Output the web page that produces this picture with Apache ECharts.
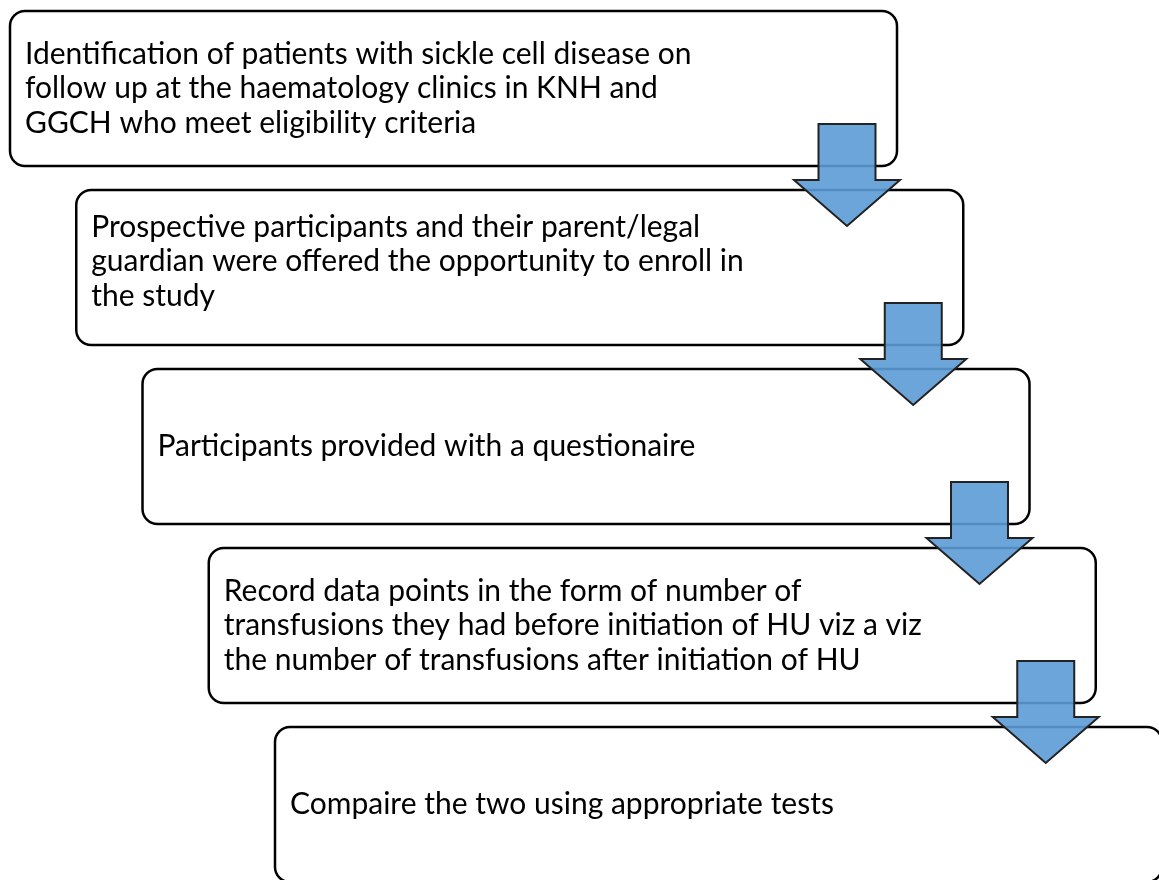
<!DOCTYPE html>
<html>
<head>
<meta charset="utf-8">
<script src="https://cdn.jsdelivr.net/npm/echarts@6/dist/echarts.min.js"></script>
<style>
html,body{margin:0;padding:0;background:#fff;}
#chart{width:1159px;height:880px;}
</style>
</head>
<body>
<div id="chart"></div>
<script>
// ---- data ----
const steps = [
  "Identification of patients with sickle cell disease on\nfollow up at the haematology clinics in KNH and\nGGCH who meet eligibility criteria",
  "Prospective participants and their parent/legal\nguardian were offered the opportunity to enroll in\nthe study",
  "Participants provided with a questionaire",
  "Record data points in the form of number of\ntransfusions they had before initiation of HU viz a viz\nthe number of transfusions after initiation of HU",
  "Compaire the two using appropriate tests"
];
const links = [[0, 1], [1, 2], [2, 3], [3, 4]];

// ---- layout (pixel-space units of the hidden axes) ----
const BOX = { x0: 10, dx: 66.25, y0: 11, dy: 179, w: 887, h: 155, r: 15 };
const textShift = [0, -6, 0, 0, 0];
const ARROW = { tipX0: 847, topOffset: -42, shaftHalf: 28.5, headHalf: 53, shaftLen: 56, len: 102 };
const FONT = '30px Lato, "Open Sans", sans-serif';

const chart = echarts.init(document.getElementById('chart'), null, { renderer: 'canvas' });

function boxRender(params, api) {
  const i = api.value(0);
  const left = BOX.x0 + i * BOX.dx, top = BOX.y0 + i * BOX.dy;
  const p0 = api.coord([left, top]);
  const p1 = api.coord([left + BOX.w, top + BOX.h]);
  return {
    type: 'group',
    children: [
      { type: 'rect', shape: { x: p0[0], y: p0[1], width: p1[0] - p0[0], height: p1[1] - p0[1], r: BOX.r },
        style: { fill: '#ffffff', stroke: '#000000', lineWidth: 2.5 } },
      { type: 'text', x: p0[0] + 15, y: (p0[1] + p1[1]) / 2 + textShift[i],
        style: { text: steps[i], font: FONT, fill: '#000000', lineHeight: 34.5, align: 'left', verticalAlign: 'middle' } }
    ]
  };
}

function arrowRender(params, api) {
  const from = api.value(0);
  const tipX = BOX.x0 + from * BOX.dx + (ARROW.tipX0 - BOX.x0);
  const topY = BOX.y0 + from * BOX.dy + BOX.h + ARROW.topOffset;
  const pts = [
    [tipX - ARROW.shaftHalf, topY],
    [tipX + ARROW.shaftHalf, topY],
    [tipX + ARROW.shaftHalf, topY + ARROW.shaftLen],
    [tipX + ARROW.headHalf, topY + ARROW.shaftLen],
    [tipX, topY + ARROW.len],
    [tipX - ARROW.headHalf, topY + ARROW.shaftLen],
    [tipX - ARROW.shaftHalf, topY + ARROW.shaftLen]
  ].map(p => api.coord(p));
  return {
    type: 'polygon',
    shape: { points: pts },
    style: { fill: 'rgba(91,155,213,0.9)', stroke: '#222222', lineWidth: 2, lineJoin: 'miter' }
  };
}

chart.setOption({
  animation: false,
  backgroundColor: '#ffffff',
  grid: { left: 0, right: 0, top: 0, bottom: 0 },
  xAxis: { type: 'value', min: 0, max: 1159, show: false },
  yAxis: { type: 'value', min: 0, max: 880, inverse: true, show: false },
  series: [
    { type: 'custom', name: 'steps', renderItem: boxRender, z: 1, clip: false,
      data: steps.map((s, i) => [i, i]) },
    { type: 'custom', name: 'arrows', renderItem: arrowRender, z: 2, clip: false,
      data: links.map(l => [l[0], l[1]]) }
  ]
});
</script>
</body>
</html>
